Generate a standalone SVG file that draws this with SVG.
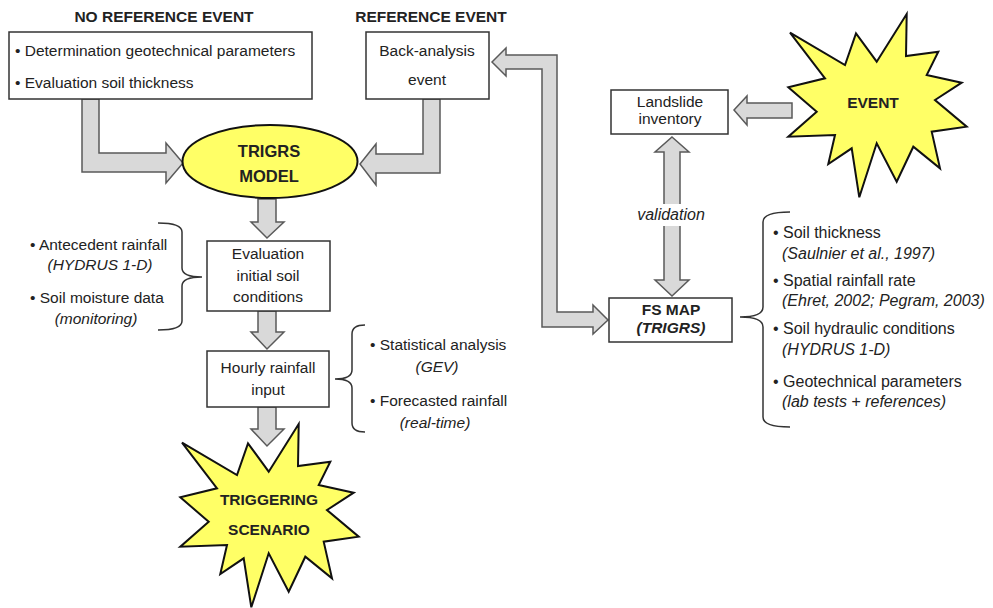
<svg xmlns="http://www.w3.org/2000/svg" width="993" height="608" viewBox="0 0 993 608">
<style>
text{font-family:"Liberation Sans",Arial,sans-serif;font-size:15.5px;fill:#222}
.b{font-weight:bold}
.i{font-style:italic}
.m{text-anchor:middle}
.r16{font-size:16px}
.box{fill:#fff;stroke:#333;stroke-width:1.5}
.arr{fill:#d9d9d9;stroke:#5a5a5a;stroke-width:1.5;stroke-linejoin:miter}
.star{fill:#ffff66;stroke:#111;stroke-width:2;stroke-linejoin:miter}
.br{fill:none;stroke:#333;stroke-width:1.5}
</style>
<defs>
<polygon id="starShape" points="906.7,14 906,56 938.3,51.7 926.7,75 961.7,82.7 935,100 966.7,126.7 931.7,131.7 940,168.3 913.3,146.7 896.7,181.7 876.7,143.3 859.3,197.3 851.7,148.3 828.3,164 835,135 788.3,136.7 816.7,111.7 788.3,87.3 825,78.3 790,32.7 845,65 856,33.3 876.7,61.7"/>
</defs>
<rect width="993" height="608" fill="#fff"/>

<g id="headings">
<text class="b m" x="164" y="22">NO REFERENCE EVENT</text>
<text class="b m" x="431" y="22">REFERENCE EVENT</text>
</g>

<g id="connectors">
<polygon class="arr" points="82,99 99,99 99,153 166,153 166,143 183,163 166,183 166,172 82,172"/>
<polygon class="arr" points="423,99 440,99 440,173 376,173 376,185 360,164 376,144 376,154 423,154"/>
<polygon class="arr" points="258,199 276,199 276,222 284,222 267,238 251,222 258,222"/>
<polygon class="arr" points="258,311 276,311 276,332 284,332 267,349 251,332 258,332"/>
<polygon class="arr" points="258,407 276,407 276,429 284,429 267,446 251,429 258,429"/>
<polygon class="arr" points="492,62 506,48 506,55 557,55 557,312 593,312 593,305 608,320 593,334 593,327 542,327 542,69 506,69 506,76"/>
<polygon class="arr" points="734,110 747,96 747,103 792,103 792,118 747,118 747,125"/>
<polygon class="arr" points="672,137 689,152 680,152 680,280 689,280 672,296 655,280 664,280 664,152 655,152"/>
<rect x="632" y="204" width="80" height="22" fill="#fff"/>
<text class="i m r16" x="671" y="220">validation</text>
<path class="br" d="M158,223 Q182,223 182,232 L182,268 Q182,277 202,277 Q182,277 182,286 L182,321 Q182,330 158,330"/>
<path class="br" d="M365,325 Q352,325 352,334 L352,370 Q352,379 335,379 Q352,379 352,388 L352,423 Q352,432 365,432"/>
<path class="br" d="M790,212 Q763,212 763,222 L763,307 Q763,317 740,317 Q763,317 763,327 L763,417 Q763,427 790,427"/>
</g>

<g id="no-ref-box">
<rect class="box" x="9" y="32" width="303" height="67"/>
<text x="15" y="56">• Determination geotechnical parameters</text>
<text x="15" y="88">• Evaluation soil thickness</text>
</g>

<g id="back-analysis">
<rect class="box" x="366" y="32" width="123" height="67"/>
<text class="m" x="427" y="56">Back-analysis</text>
<text class="m" x="427" y="85">event</text>
</g>

<g id="trigrs-model">
<ellipse cx="270" cy="161.5" rx="87.5" ry="36.5" fill="#ffff66" stroke="#111" stroke-width="2"/>
<text class="b m" x="269" y="157" style="font-size:16.5px">TRIGRS</text>
<text class="b m" x="269" y="182" style="font-size:16.5px">MODEL</text>
</g>

<g id="eval-initial">
<rect class="box" x="207" y="241" width="123" height="70"/>
<text class="m" x="268" y="259">Evaluation</text>
<text class="m" x="268" y="281">initial soil</text>
<text class="m" x="268" y="302">conditions</text>
</g>

<g id="hourly">
<rect class="box" x="207" y="351" width="122" height="56"/>
<text class="m" x="268" y="373">Hourly rainfall</text>
<text class="m" x="268" y="395">input</text>
</g>

<g id="left-inputs">
<text x="30" y="250">• Antecedent rainfall</text>
<text class="i m" x="100" y="270">(HYDRUS 1-D)</text>
<text x="30" y="303">• Soil moisture data</text>
<text class="i m" x="96" y="324">(monitoring)</text>
</g>

<g id="rain-inputs">
<text x="370" y="350">• Statistical analysis</text>
<text class="i m" x="437" y="372">(GEV)</text>
<text x="370" y="406">• Forecasted rainfall</text>
<text class="i m" x="435" y="428">(real-time)</text>
</g>

<g id="triggering">
<use href="#starShape" class="star" transform="translate(-608,410)"/>
<text class="b m" x="269" y="505">TRIGGERING</text>
<text class="b m" x="269" y="535">SCENARIO</text>
</g>

<g id="event">
<use href="#starShape" class="star"/>
<text class="b m" x="873" y="108">EVENT</text>
</g>

<g id="landslide">
<rect class="box" x="611" y="90" width="117" height="44"/>
<text class="m" x="670" y="107">Landslide</text>
<text class="m" x="670" y="124">inventory</text>
</g>

<g id="fs-map">
<rect class="box" x="609" y="298" width="123" height="44"/>
<text class="b m" x="671" y="315">FS MAP</text>
<text class="b i m" x="671" y="333">(TRIGRS)</text>
</g>

<g id="fs-inputs">
<text class="r16" x="773" y="238">•  Soil thickness</text>
<text class="i r16" x="782" y="259">(Saulnier et al., 1997)</text>
<text class="r16" x="773" y="286">•  Spatial rainfall rate</text>
<text class="i r16" x="782" y="306">(Ehret, 2002; Pegram, 2003)</text>
<text class="r16" x="773" y="334">•  Soil hydraulic conditions</text>
<text class="i r16" x="782" y="355">(HYDRUS 1-D)</text>
<text class="r16" x="773" y="387">•  Geotechnical parameters</text>
<text class="i r16" x="782" y="407">(lab tests + references)</text>
</g>
</svg>
